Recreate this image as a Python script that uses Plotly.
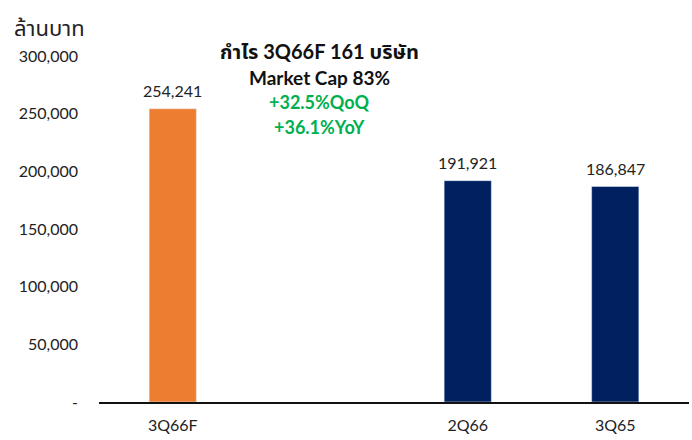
import plotly.graph_objects as go

categories = ["3Q66F", " ", "2Q66", "3Q65"]
values = [254241, None, 191921, 186847]
value_labels = ["254,241", "", "191,921", "186,847"]
bar_colors = ["#ED7D31", "#002060", "#002060", "#002060"]
y_tick_vals = [0, 50000, 100000, 150000, 200000, 250000, 300000]
y_tick_text = ["-", "50,000", "100,000", "150,000", "200,000", "250,000", "300,000"]

FONT = "Lato, 'Noto Sans', 'Noto Sans Thai', 'Open Sans', sans-serif"
W, H = 692, 440
ML, MR, MT, MB = 99, 3, 56, 38

fig = go.Figure(go.Bar(
    x=categories, y=values, marker_color=bar_colors,
    cliponaxis=False,
))

for c, v, lab in zip(categories, values, value_labels):
    if v is None:
        continue
    fig.add_annotation(x=c, y=v, text=lab, showarrow=False, yanchor="middle", yshift=18,
                       font=dict(size=16, color="#222", family=FONT))

fig.update_layout(
    width=W, height=H,
    margin=dict(l=ML, r=MR, t=MT, b=MB),
    paper_bgcolor="white", plot_bgcolor="white",
    bargap=0.68, showlegend=False,
    font=dict(family=FONT, size=16, color="#222"),
    xaxis=dict(showline=True, linecolor="#111", linewidth=1.5, ticks="",
               tickfont=dict(size=16), showgrid=False, ticklabelstandoff=8),
    yaxis=dict(range=[0, 300000], tickvals=y_tick_vals, ticktext=y_tick_text,
               showgrid=False, zeroline=False, ticks="", ticklabelstandoff=20,
               tickfont=dict(size=16)),
)

plot_w = W - ML - MR
plot_h = H - MT - MB

def px_to_paper(px, py):
    return (px - ML) / plot_w, (H - MB - py) / plot_h

x0, y0 = px_to_paper(12, 27)
fig.add_annotation(x=x0, y=y0, xref="paper", yref="paper", xanchor="left", yanchor="middle",
                   text="ล้านบาท", showarrow=False, font=dict(size=22, color="#222"))

lines = [
    ("กำไร 3Q66F 161 บริษัท", "#111", 51, 20),
    ("Market Cap 83%", "#111", 77, 19),
    ("+32.5%QoQ", "#00B050", 102, 18),
    ("+36.1%YoY", "#00B050", 127, 18),
]
for txt, col, py, sz in lines:
    xx, yy = px_to_paper(319, py)
    fig.add_annotation(x=xx, y=yy, xref="paper", yref="paper", xanchor="center", yanchor="middle",
                       text=f"<b>{txt}</b>", showarrow=False, font=dict(size=sz, color=col))

fig.write_html("out.html", config={"displayModeBar": False},
               post_script="document.body.style.margin='0';")
